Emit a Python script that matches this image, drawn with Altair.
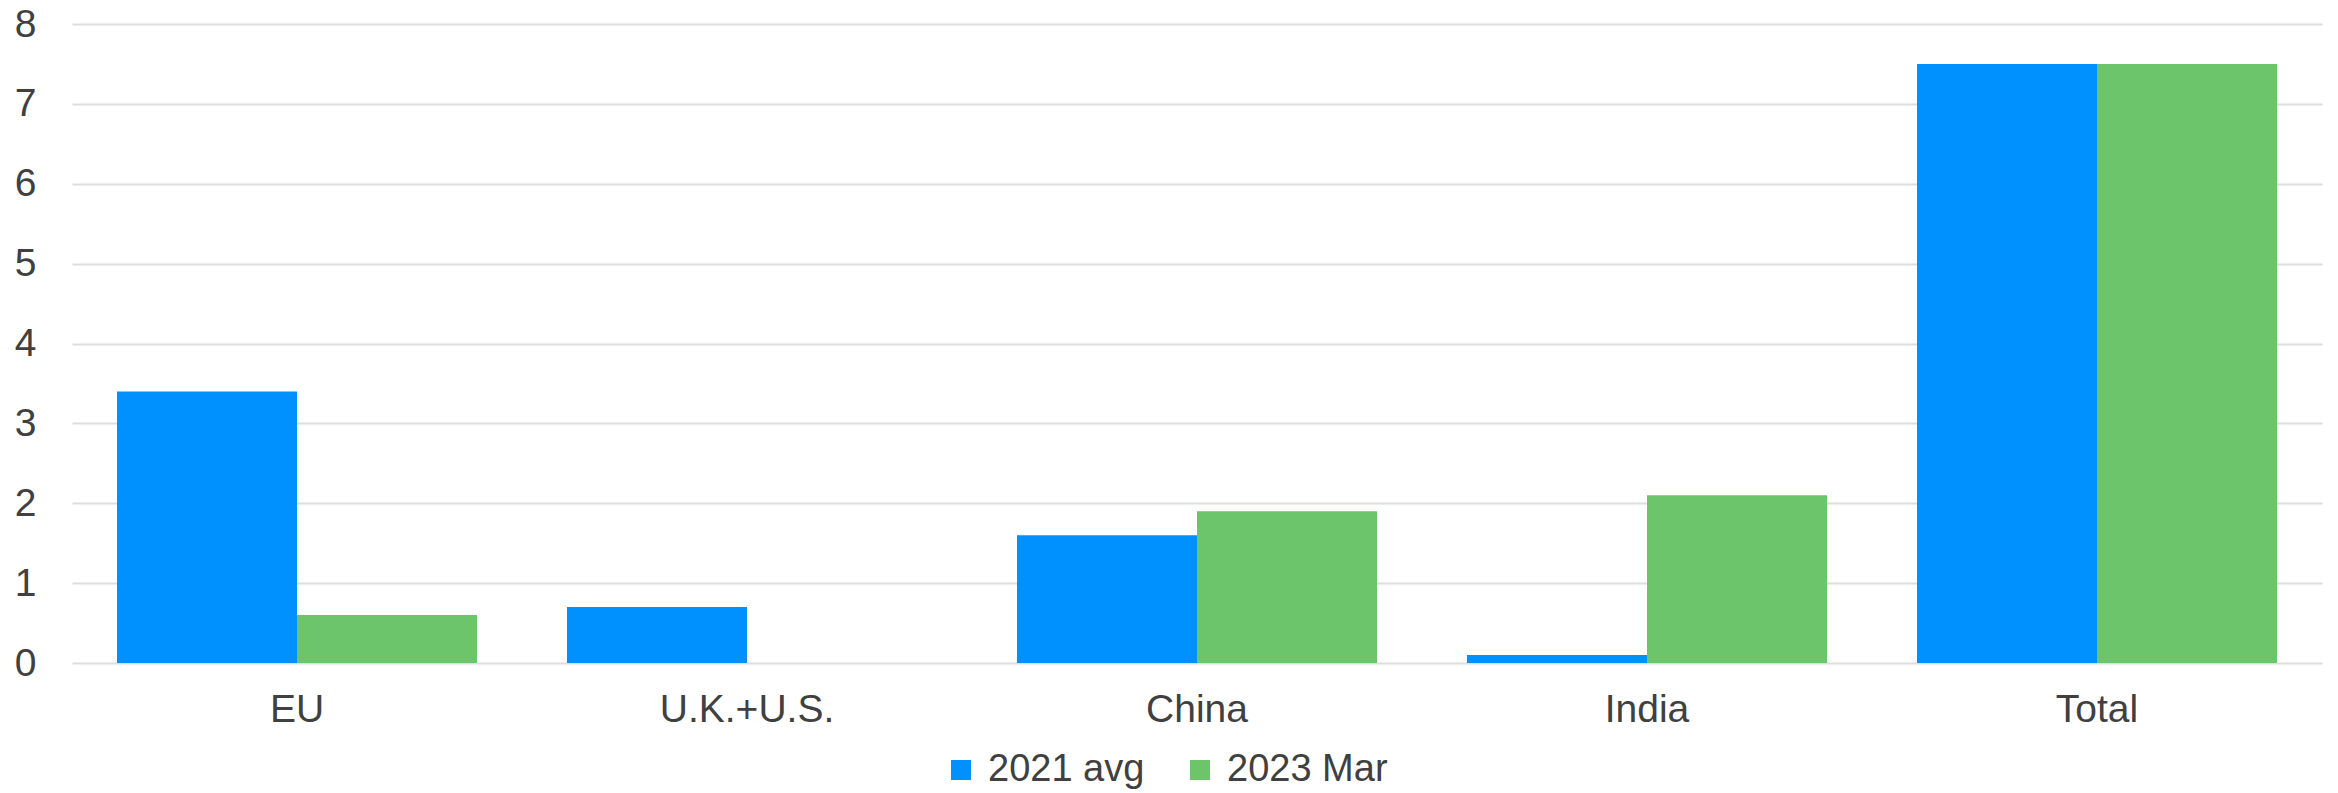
import altair as alt
import pandas as pd

categories = ["EU", "U.K.+U.S.", "China", "India", "Total"]
series = ["2021 avg", "2023 Mar"]
values_2021 = [3.4, 0.7, 1.6, 0.1, 7.5]
values_2023 = [0.6, 0.0, 1.9, 2.1, 7.5]
colors = ["#0091FF", "#6CC56B"]
y_ticks = [0, 1, 2, 3, 4, 5, 6, 7, 8]

rows = []
for c, a, b in zip(categories, values_2021, values_2023):
    rows.append({"region": c, "series": series[0], "value": a})
    rows.append({"region": c, "series": series[1], "value": b})
df = pd.DataFrame(rows)

FONT = "Liberation Sans"
TXT = "#404040"

chart = alt.Chart(df).mark_bar().encode(
    x=alt.X("region:N", sort=categories,
            scale=alt.Scale(paddingInner=0.2, paddingOuter=0.1),
            axis=alt.Axis(title=None, labelAngle=0, domain=False, ticks=False,
                          labelFont=FONT, labelFontSize=39, labelColor=TXT,
                          labelPadding=27, labelLimit=0)),
    xOffset=alt.XOffset("series:N", sort=series),
    y=alt.Y("value:Q", scale=alt.Scale(domain=[0, 8], nice=False),
            axis=alt.Axis(title=None, values=y_ticks, domain=False, ticks=False,
                          labelFont=FONT, labelFontSize=39, labelColor=TXT,
                          labelPadding=36, gridColor="#DDDDDD", gridWidth=2)),
    color=alt.Color("series:N", sort=series,
                    scale=alt.Scale(domain=series, range=colors),
                    legend=alt.Legend(title=None, orient="none", direction="horizontal",
                                      legendX=870, legendY=727,
                                      symbolType="square", symbolSize=400,
                                      symbolStrokeWidth=0, labelFont=FONT,
                                      labelFontSize=38, labelColor=TXT,
                                      labelLimit=0,
                                      columnPadding=36, labelOffset=8)),
).properties(
    width=2250,
    height=639,
    padding={"left": 72, "top": 24, "right": 16, "bottom": 130},
    autosize=alt.AutoSizeParams(type="none"),
    background="white",
).configure_view(strokeWidth=0, stroke="transparent")

chart.save("out.html", embed_options={"renderer": "svg", "actions": False})
